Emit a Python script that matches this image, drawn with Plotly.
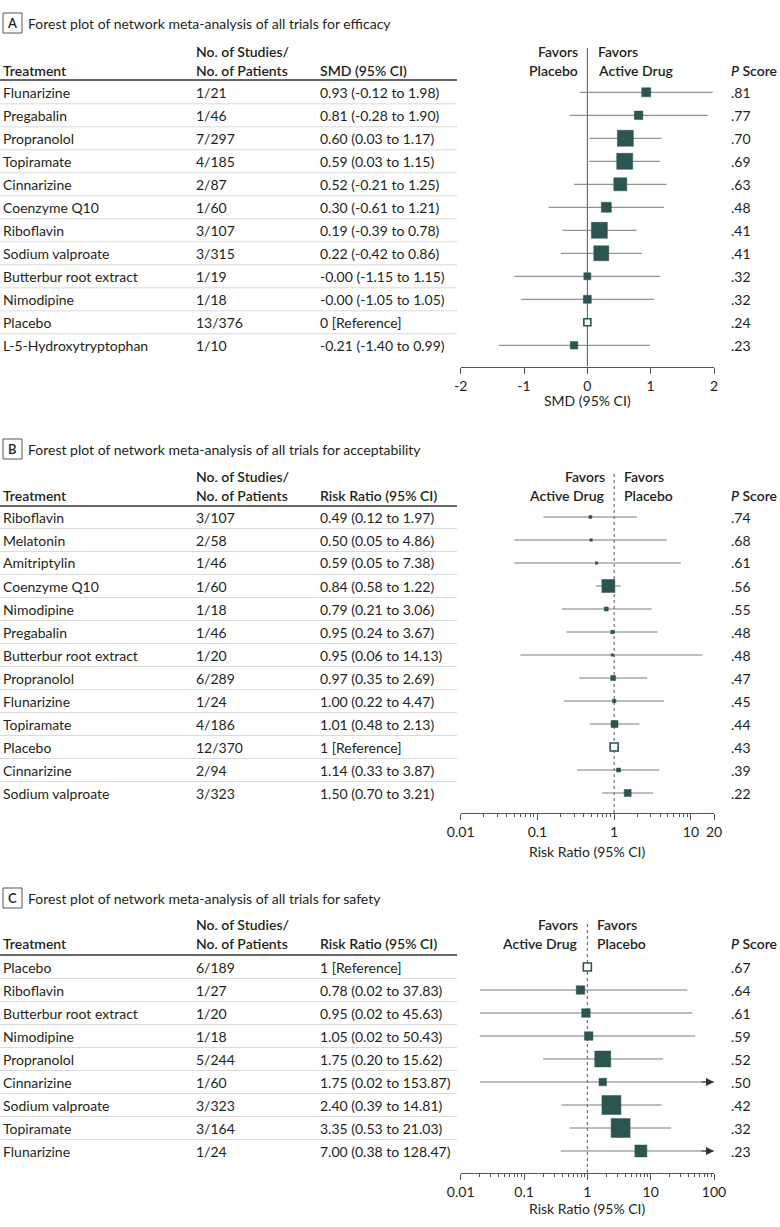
import math
import plotly.graph_objects as go

# ---------------- DATA ----------------
# Panel A: efficacy (SMD)
A_treat = ["Flunarizine", "Pregabalin", "Propranolol", "Topiramate", "Cinnarizine",
           "Coenzyme Q10", "Riboflavin", "Sodium valproate", "Butterbur root extract",
           "Nimodipine", "Placebo", "L-5-Hydroxytryptophan"]
A_studies = ["1/21", "1/46", "7/297", "4/185", "2/87", "1/60", "3/107", "3/315",
             "1/19", "1/18", "13/376", "1/10"]
A_est = [0.93, 0.81, 0.60, 0.59, 0.52, 0.30, 0.19, 0.22, -0.0, -0.0, 0, -0.21]
A_lo = [-0.12, -0.28, 0.03, 0.03, -0.21, -0.61, -0.39, -0.42, -1.15, -1.05, None, -1.40]
A_hi = [1.98, 1.90, 1.17, 1.15, 1.25, 1.21, 0.78, 0.86, 1.15, 1.05, None, 0.99]
A_p = [0.81, 0.77, 0.70, 0.69, 0.63, 0.48, 0.41, 0.41, 0.32, 0.32, 0.24, 0.23]
A_box = [9, 8.5, 16, 16, 13, 10, 16, 15, 7, 8, 7, 7.5]
A_ticks = [-2, -1, 0, 1, 2]
A_ticklabels = ["-2", "-1", "0", "1", "2"]

# Panel B: acceptability (risk ratio)
B_treat = ["Riboflavin", "Melatonin", "Amitriptylin", "Coenzyme Q10", "Nimodipine",
           "Pregabalin", "Butterbur root extract", "Propranolol", "Flunarizine",
           "Topiramate", "Placebo", "Cinnarizine", "Sodium valproate"]
B_studies = ["3/107", "2/58", "1/46", "1/60", "1/18", "1/46", "1/20", "6/289", "1/24",
             "4/186", "12/370", "2/94", "3/323"]
B_est = [0.49, 0.50, 0.59, 0.84, 0.79, 0.95, 0.95, 0.97, 1.00, 1.01, 1, 1.14, 1.50]
B_lo = [0.12, 0.05, 0.05, 0.58, 0.21, 0.24, 0.06, 0.35, 0.22, 0.48, None, 0.33, 0.70]
B_hi = [1.97, 4.86, 7.38, 1.22, 3.06, 3.67, 14.13, 2.69, 4.47, 2.13, None, 3.87, 3.21]
B_p = [0.74, 0.68, 0.61, 0.56, 0.55, 0.48, 0.48, 0.47, 0.45, 0.44, 0.43, 0.39, 0.22]
B_box = [3, 2.5, 2.5, 13, 4, 3.5, 2.5, 5, 3.5, 7, 8, 4, 7]
B_ticks = [0.01, 0.1, 1, 10, 20]
B_ticklabels = ["0.01", "0.1", "1", "10", "20"]

# Panel C: safety (risk ratio)
C_treat = ["Placebo", "Riboflavin", "Butterbur root extract", "Nimodipine", "Propranolol",
           "Cinnarizine", "Sodium valproate", "Topiramate", "Flunarizine"]
C_studies = ["6/189", "1/27", "1/20", "1/18", "5/244", "1/60", "3/323", "3/164", "1/24"]
C_est = [1, 0.78, 0.95, 1.05, 1.75, 1.75, 2.40, 3.35, 7.00]
C_lo = [None, 0.02, 0.02, 0.02, 0.20, 0.02, 0.39, 0.53, 0.38]
C_hi = [None, 37.83, 45.63, 50.43, 15.62, 153.87, 14.81, 21.03, 128.47]
C_p = [0.67, 0.64, 0.61, 0.59, 0.52, 0.50, 0.42, 0.32, 0.23]
C_box = [8, 8.5, 8.5, 8.5, 16, 7.5, 19, 19, 12]
C_ticks = [0.01, 0.1, 1, 10, 100]
C_ticklabels = ["0.01", "0.1", "1", "10", "100"]

# ---------------- STYLE / LAYOUT ----------------
W, H = 780, 1227
FONT = "Lato"
TXT = "#231f20"
TEAL = "#2a5551"
CI_COL = "#7a7a7a"
SEP_COL = "#dadada"


def X(px):
    return px / W


def Y(py):
    return 1 - py / H


panels = [
    dict(letter="A", title="Forest plot of network meta-analysis of all trials for efficacy",
         treat=A_treat, studies=A_studies, est=A_est, lo=A_lo, hi=A_hi, p=A_p, box=A_box,
         ticks=A_ticks, ticklabels=A_ticklabels, log=False, rng=[-2, 2], ref=0,
         ci_head="SMD (95% CI)", axis_title="SMD (95% CI)",
         fav_left=["Favors", "Placebo"], fav_right=["Favors", "Active Drug"],
         title_y=23, h1=52, h2=71, line_y=80, row0=92.3, axis_y=366.7, axt_y=400.7,
         ref_top=48, fav_r=578, fav_l=598, dotted=False),
    dict(letter="B", title="Forest plot of network meta-analysis of all trials for acceptability",
         treat=B_treat, studies=B_studies, est=B_est, lo=B_lo, hi=B_hi, p=B_p, box=B_box,
         ticks=B_ticks, ticklabels=B_ticklabels, log=True, rng=[-2, math.log10(20)], ref=1,
         ci_head="Risk Ratio (95% CI)", axis_title="Risk Ratio (95% CI)",
         fav_left=["Favors", "Active Drug"], fav_right=["Favors", "Placebo"],
         title_y=449, h1=477, h2=496, line_y=506, row0=517, axis_y=813, axt_y=851,
         ref_top=472, fav_r=605, fav_l=624, dotted=True),
    dict(letter="C", title="Forest plot of network meta-analysis of all trials for safety",
         treat=C_treat, studies=C_studies, est=C_est, lo=C_lo, hi=C_hi, p=C_p, box=C_box,
         ticks=C_ticks, ticklabels=C_ticklabels, log=True, rng=[-2, 2], ref=1,
         ci_head="Risk Ratio (95% CI)", axis_title="Risk Ratio (95% CI)",
         fav_left=["Favors", "Active Drug"], fav_right=["Favors", "Placebo"],
         title_y=898, h1=924, h2=943, line_y=955, row0=967, axis_y=1173, axt_y=1208,
         ref_top=923, fav_r=578, fav_l=597, dotted=True),
]

X_TREAT, X_STUD, X_CI, X_P = 1, 194, 318, 729
X_DOM0, X_DOM1 = 460.7, 714
ROW_H = 23
TABLE_R = 457
FS = 14

fig = go.Figure()
ann = []
shp = []


def txt(x, y, s, anchor="left", size=FS, bold=False, ref=("paper", "paper")):
    font = dict(family=FONT, size=size, color=TXT)
    if bold:
        font["weight"] = 600
    ann.append(dict(x=x, y=y, xref=ref[0], yref=ref[1], text=s,
                    showarrow=False, xanchor=anchor, yanchor="middle", font=font))


def ci_text(e, lo, hi, log):
    if lo is None:
        return ("1" if log else "0") + " [Reference]"
    return "%.2f (%.2f to %.2f)" % (e, lo, hi)


for k, P in enumerate(panels):
    sfx = "" if k == 0 else str(k + 1)
    xa, ya = "x" + sfx, "y" + sfx
    n = len(P["treat"])

    # ---- title with label box
    ty = P["title_y"]
    shp.append(dict(type="rect", xref="paper", yref="paper", x0=X(3), x1=X(22),
                    y0=Y(ty + 10), y1=Y(ty - 10), line=dict(color="#555", width=1)))
    txt(X(12.5), Y(ty), P["letter"], anchor="center", size=13, bold=True)
    txt(X(26), Y(ty), P["title"], size=FS)

    # ---- headers
    txt(X(X_TREAT), Y(P["h2"]), "Treatment", bold=True)
    txt(X(X_STUD), Y(P["h1"]), "No. of Studies/", bold=True)
    txt(X(X_STUD), Y(P["h2"]), "No. of Patients", bold=True)
    txt(X(X_CI), Y(P["h2"]), P["ci_head"], bold=True)
    txt(X(X_P), Y(P["h2"]), "<i>P</i> Score", bold=True)
    txt(X(P["fav_r"] + 2), Y(P["h1"]), P["fav_left"][0], anchor="right", bold=True)
    txt(X(P["fav_r"] + 2), Y(P["h2"]), P["fav_left"][1], anchor="right", bold=True)
    txt(X(P["fav_l"] - 2), Y(P["h1"]), P["fav_right"][0], bold=True)
    txt(X(P["fav_l"] - 2), Y(P["h2"]), P["fav_right"][1], bold=True)
    shp.append(dict(type="line", xref="paper", yref="paper", x0=0, x1=X(TABLE_R),
                    y0=Y(P["line_y"]), y1=Y(P["line_y"]), line=dict(color="#333", width=1.6)))

    # ---- table rows
    for i in range(n):
        ry = P["row0"] + ROW_H * i
        txt(X(X_TREAT), Y(ry), P["treat"][i])
        txt(X(X_STUD), Y(ry), P["studies"][i])
        txt(X(X_CI), Y(ry), ci_text(P["est"][i], P["lo"][i], P["hi"][i], P["log"]))
        txt(X(X_P), Y(ry), ("%.2f" % P["p"][i])[1:])
        if i < n - 1:
            sy = ry + ROW_H / 2
            shp.append(dict(type="line", xref="paper", yref="paper", x0=0, x1=X(TABLE_R),
                            y0=Y(sy), y1=Y(sy), line=dict(color=SEP_COL, width=1)))

    # ---- axes geometry
    top_px = P["line_y"] + 2
    bot_px = P["axis_y"]
    r_bot = (bot_px - P["row0"]) / ROW_H
    r_top = (top_px - P["row0"]) / ROW_H
    rows = list(range(n))

    # reference line
    shp.append(dict(type="line", xref=xa, yref="paper", x0=P["ref"], x1=P["ref"],
                    y0=Y(bot_px), y1=Y(P["ref_top"]), layer="below",
                    line=dict(color="#555", width=1, dash="dot" if P["dotted"] else "solid")))

    # CI segments
    cx, cy = [], []
    for i in rows:
        if P["lo"][i] is None:
            continue
        cx += [P["lo"][i], P["hi"][i], None]
        cy += [i, i, None]
    fig.add_trace(go.Scatter(x=cx, y=cy, mode="lines", xaxis=xa, yaxis=ya,
                             line=dict(color=CI_COL, width=1), hoverinfo="skip"))

    # arrows for CI beyond axis maximum
    xmax = 10 ** P["rng"][1] if P["log"] else P["rng"][1]
    for i in rows:
        if P["hi"][i] is not None and P["hi"][i] > xmax:
            ann.append(dict(x=1, y=i, xref=xa + " domain", yref=ya, text="", showarrow=True,
                            ax=-14, ay=0, axref="pixel", ayref="pixel", arrowhead=2,
                            arrowsize=1.6, arrowwidth=1, arrowcolor="#333", standoff=0))

    # squares
    est_pts = [P["est"][i] for i in rows if P["lo"][i] is not None]
    est_y = [i for i in rows if P["lo"][i] is not None]
    est_sz = [P["box"][i] for i in rows if P["lo"][i] is not None]
    fig.add_trace(go.Scatter(x=est_pts, y=est_y, mode="markers", xaxis=xa, yaxis=ya,
                             marker=dict(symbol="square", size=est_sz, color=TEAL, opacity=1,
                                         line=dict(color=TEAL, width=0.5)),
                             hoverinfo="skip"))
    ref_y = [i for i in rows if P["lo"][i] is None]
    fig.add_trace(go.Scatter(x=[P["est"][i] for i in ref_y], y=ref_y, mode="markers",
                             xaxis=xa, yaxis=ya,
                             marker=dict(symbol="square", size=[P["box"][i] for i in ref_y],
                                         color="white", opacity=1,
                                         line=dict(color=TEAL, width=1.6)),
                             hoverinfo="skip"))

    # axis title
    txt(X((X_DOM0 + X_DOM1) / 2), Y(P["axt_y"]), P["axis_title"], anchor="center")

    xaxis = dict(domain=[X(X_DOM0), X(X_DOM1)], anchor=ya, range=P["rng"],
                 type="log" if P["log"] else "linear",
                 tickmode="array", tickvals=P["ticks"], ticktext=P["ticklabels"],
                 showgrid=False, zeroline=False, showline=True, linecolor="#555", linewidth=1,
                 ticks="outside", ticklen=6, tickwidth=1, tickcolor="#555", automargin=False,
                 tickfont=dict(family=FONT, size=FS, color=TXT), fixedrange=True)
    if P["log"]:
        minors = []
        for d in [0.01, 0.1, 1, 10]:
            for m in range(2, 10):
                v = d * m
                if v < xmax * 0.999 and v not in P["ticks"]:
                    minors.append(v)
        xaxis["minor"] = dict(tickmode="array", tickvals=minors, ticks="outside", ticklen=3,
                              tickwidth=1, tickcolor="#555", showgrid=False)
    yaxis = dict(domain=[Y(bot_px), Y(top_px)], anchor=xa, range=[r_bot, r_top],
                 visible=False, showgrid=False, zeroline=False, fixedrange=True,
                 automargin=False)
    fig.update_layout(**{"xaxis" + sfx: xaxis, "yaxis" + sfx: yaxis})

fig.update_layout(width=W, height=H,
                  margin=dict(l=0, r=0, t=0, b=0, pad=0, autoexpand=False),
                  paper_bgcolor="white", plot_bgcolor="white", showlegend=False,
                  annotations=ann, shapes=shp, font=dict(family=FONT, color=TXT))
fig.write_html("out.html", config={"displayModeBar": False},
               post_script="document.body.style.margin='0';"
                           "document.body.style.overflow='hidden';")
